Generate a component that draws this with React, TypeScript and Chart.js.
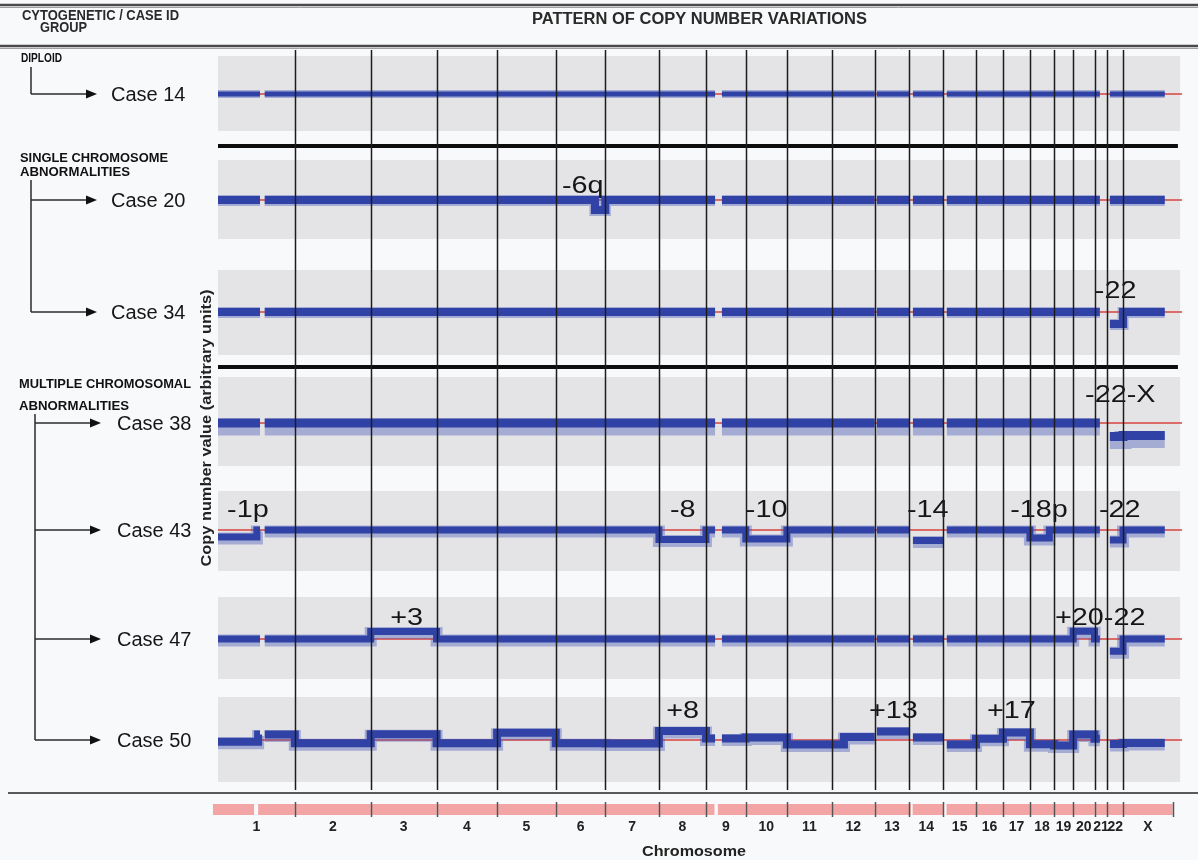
import { useEffect, useRef } from 'react';
import { Chart, registerables } from 'chart.js';

Chart.register(...registerables);

// ---------------- DATA ----------------
const CHROMOSOMES = ['1', '2', '3', '4', '5', '6', '7', '8', '9', '10', '11', '12', '13', '14', '15', '16', '17', '18', '19', '20', '21', '22', 'X'];
// plotted chromosome lengths (Mb)
const CHROM_LENGTHS = [245, 242, 210, 193, 187, 158, 171, 150, 127, 131, 143, 137, 110, 109, 104, 86, 86, 77, 61, 68, 41, 50, 158];
// regions without probes: [chromosome index, from Mb, to Mb]
const COVERAGE_GAPS = [[0, 134, 149], [8, 29, 51], [12, 0, 7], [13, 0, 12], [14, 0, 11], [20, 17, 41], [21, 0, 8], [22, 133, 158]];
const IDEOGRAM_GAPS = [[0, 115, 128], [8, 27, 38], [13, 5, 11], [14, 0, 10]];

const CASE_LABELS = ['Case 14', 'Case 20', 'Case 34', 'Case 38', 'Case 43', 'Case 47', 'Case 50'];
// segments: [chromosome index, from Mb, to Mb, copy-number shift (log2, arbitrary)]
const CASE_14_SEGMENTS: number[][] = [];
const CASE_20_SEGMENTS = [[5, 125, 158, -0.33]];
const CASE_34_SEGMENTS = [[21, 0, 50, -0.4]];
const CASE_38_SEGMENTS = [[21, 0, 50, -0.45], [22, 0, 158, -0.42]];
const CASE_43_SEGMENTS = [[0, 0, 124, -0.23], [7, 0, 150, -0.32], [9, 0, 131, -0.3], [13, 0, 109, -0.35], [17, 0, 62, -0.27], [21, 0, 50, -0.33]];
const CASE_47_SEGMENTS = [[2, 0, 210, 0.25], [19, 0, 68, 0.26], [21, 0, 50, -0.41]];
const CASE_50_SEGMENTS = [
  [0, 0, 128, -0.06], [0, 128, 245, 0.18], [1, 0, 242, -0.11], [2, 0, 210, 0.19], [3, 0, 193, -0.11],
  [4, 0, 187, 0.24], [5, 0, 158, -0.11], [6, 0, 171, -0.12], [7, 0, 150, 0.3], [8, 0, 127, 0.05],
  [9, 0, 131, 0.08], [10, 0, 143, -0.15], [11, 0, 39, -0.15], [11, 39, 137, 0.1], [12, 0, 110, 0.28],
  [13, 0, 109, 0.08], [14, 0, 104, -0.15], [15, 0, 86, 0.04], [16, 0, 86, 0.25], [17, 0, 77, -0.14],
  [18, 0, 61, -0.18], [19, 0, 68, 0.18], [20, 0, 41, 0.04], [21, 0, 50, -0.13], [22, 0, 158, -0.1],
];
const CASE_SEGMENTS = [CASE_14_SEGMENTS, CASE_20_SEGMENTS, CASE_34_SEGMENTS, CASE_38_SEGMENTS, CASE_43_SEGMENTS, CASE_47_SEGMENTS, CASE_50_SEGMENTS];

const ANNOTATION_TEXT = ['-6q', '-22', '-22-X', '-1p', '-8', '-10', '-14', '-18p', '-22', '+3', '+20-22', '+8', '+13', '+17'];
const ANNOTATION_CASE = [1, 2, 3, 4, 4, 4, 4, 4, 4, 5, 5, 6, 6, 6];
const ANNOTATION_CHROM = [5, 21, 21, 0, 7, 9, 13, 17, 21, 2, 19, 7, 12, 16];
const ANNOTATION_OFFSET_MB = [20, -40, -71, 29, 35, 0, -7, -63, -27, 62, -58, 23, -18, -51];

// ---------------- LAYOUT / STYLE ----------------
const W = 1198;
const H = 860;
const FONT = '"Liberation Sans", Arial, Helvetica, sans-serif';
const X_MAX = 3074;
const BAND_END = 3068;
const SEP_END = 3061;
const IDEOGRAM_LEAD = 16;
const Y_MAX = 7.45;
const GAIN = 0.3;
const ROW_BASE = [0.46, 1.52, 2.64, 3.75, 4.82, 5.91, 6.92];
const ROW_BAND = [[0.08, 0.83], [1.12, 1.91], [2.22, 3.07], [3.29, 4.18], [4.43, 5.23], [5.49, 6.31], [6.49, 7.34]];
const ANNOT_RISE = [0, 0.07, 0.14, 0.21, 0.13, 0.14, 0.22];
const TRACE_WIDTH = [5, 8, 8, 9, 7, 7, 8];
// spread band of the noisy signal (downward offset in y units, width px)
const SPREAD_OFFSET = [0, 0.005, 0.005, 0.04, 0.015, 0.015, 0.015];
const SPREAD_WIDTH = [8, 11, 11, 17, 12, 12, 12];
const SEPARATORS = [0.98, 3.19];

const CHROM_STARTS: number[] = [];
CHROM_LENGTHS.reduce((acc, len) => { CHROM_STARTS.push(acc); return acc + len; }, 0);

function subtractGaps(c: number, len: number, gaps: number[][]) {
  let intervals = [[0, len]];
  gaps.filter((g) => g[0] === c).forEach(([, a, b]) => {
    intervals = intervals.flatMap(([s, e]) => {
      const out: number[][] = [];
      if (a > s) out.push([s, Math.min(a, e)]);
      if (b < e) out.push([Math.max(b, s), e]);
      return out.filter(([p, q]) => q > p);
    });
  });
  return intervals;
}

function buildTrace(segments: number[][], row: number, shift: number) {
  const pieces: number[][] = [];
  CHROM_LENGTHS.forEach((len, c) => {
    const segs = segments.filter((g) => g[0] === c);
    subtractGaps(c, len, COVERAGE_GAPS).forEach(([s, e]) => {
      const cuts = new Set<number>([s, e]);
      segs.forEach(([, a, b]) => {
        if (a > s && a < e) cuts.add(a);
        if (b > s && b < e) cuts.add(b);
      });
      const sorted = [...cuts].sort((p, q) => p - q);
      for (let k = 0; k < sorted.length - 1; k++) {
        const p = sorted[k];
        const q = sorted[k + 1];
        const mid = (p + q) / 2;
        const seg = segs.find(([, a, b]) => mid >= a && mid <= b);
        pieces.push([CHROM_STARTS[c] + p, CHROM_STARTS[c] + q, seg ? seg[3] : 0]);
      }
    });
  });
  const pts: { x: number; y: number | null }[] = [];
  let prevEnd: number | null = null;
  pieces.forEach(([gs, ge, v]) => {
    if (prevEnd !== null && gs - prevEnd > 0.5) pts.push({ x: (prevEnd + gs) / 2, y: null });
    const y = ROW_BASE[row] - v * GAIN + shift;
    pts.push({ x: gs, y }, { x: ge, y });
    prevEnd = ge;
  });
  return pts;
}

function drawText(
  ctx: CanvasRenderingContext2D, text: string, x: number, y: number, size: number,
  opts: { bold?: boolean; align?: 'left' | 'center' | 'right'; width?: number; scaleX?: number; color?: string; rotate?: number; baseline?: CanvasTextBaseline } = {},
) {
  ctx.save();
  ctx.font = `${opts.bold ? 'bold ' : ''}${size}px ${FONT}`;
  ctx.fillStyle = opts.color || '#111';
  ctx.textBaseline = opts.baseline || 'middle';
  ctx.textAlign = 'left';
  const w = ctx.measureText(text).width;
  const sx = opts.width ? opts.width / w : opts.scaleX || 1;
  const dw = w * sx;
  ctx.translate(x, y);
  if (opts.rotate) ctx.rotate(opts.rotate);
  const left = opts.align === 'center' ? -dw / 2 : opts.align === 'right' ? -dw : 0;
  ctx.translate(left, 0);
  ctx.scale(sx, 1);
  ctx.fillText(text, 0, 0);
  ctx.restore();
}

function hLine(ctx: CanvasRenderingContext2D, x0: number, x1: number, y: number, width: number, color: string) {
  ctx.save();
  ctx.strokeStyle = color;
  ctx.lineWidth = width;
  ctx.beginPath();
  ctx.moveTo(x0, y);
  ctx.lineTo(x1, y);
  ctx.stroke();
  ctx.restore();
}

function vLine(ctx: CanvasRenderingContext2D, x: number, y0: number, y1: number, width: number, color: string) {
  ctx.save();
  ctx.strokeStyle = color;
  ctx.lineWidth = width;
  ctx.beginPath();
  ctx.moveTo(x, y0);
  ctx.lineTo(x, y1);
  ctx.stroke();
  ctx.restore();
}

function arrow(ctx: CanvasRenderingContext2D, x0: number, y: number, x1: number) {
  hLine(ctx, x0, x1 - 8, y, 1.5, '#2a2a2a');
  ctx.save();
  ctx.fillStyle = '#111';
  ctx.beginPath();
  ctx.moveTo(x1 - 11, y - 4.5);
  ctx.lineTo(x1, y);
  ctx.lineTo(x1 - 11, y + 4.5);
  ctx.closePath();
  ctx.fill();
  ctx.restore();
}

const figurePlugin = {
  id: 'cnvFigure',
  beforeDraw(chart: any) {
    const { ctx, scales } = chart;
    const xs = scales.x;
    const ys = scales.y;
    ctx.save();
    ctx.fillStyle = '#f8f9fb';
    ctx.fillRect(0, 0, W, H);
    ctx.fillStyle = '#e4e4e6';
    ROW_BAND.forEach(([t, b]) => {
      const x0 = xs.getPixelForValue(0);
      const x1 = xs.getPixelForValue(BAND_END);
      const y0 = ys.getPixelForValue(t);
      const y1 = ys.getPixelForValue(b);
      ctx.fillRect(x0, y0, x1 - x0, y1 - y0);
    });
    ctx.restore();
  },
  afterDatasetsDraw(chart: any) {
    const { ctx, scales } = chart;
    const xs = scales.x;
    const ys = scales.y;
    SEPARATORS.forEach((v) => {
      hLine(ctx, xs.getPixelForValue(0), xs.getPixelForValue(SEP_END), ys.getPixelForValue(v), 4, '#0d0d0d');
    });
    ANNOTATION_TEXT.forEach((t, i) => {
      const row = ANNOTATION_CASE[i];
      const x = xs.getPixelForValue(CHROM_STARTS[ANNOTATION_CHROM[i]] + ANNOTATION_OFFSET_MB[i]);
      const y = ys.getPixelForValue(ROW_BASE[row] - ANNOT_RISE[row]);
      drawText(ctx, t, x, y, 24, { scaleX: 1.2, baseline: 'alphabetic', color: '#151515' });
    });
    const top = chart.chartArea.top + 2;
    const bottom = chart.chartArea.bottom - 3;
    for (let c = 1; c < CHROMOSOMES.length; c++) {
      vLine(ctx, Math.round(xs.getPixelForValue(CHROM_STARTS[c])) + 0.5, top, bottom, 1.5, '#1c1c1c');
    }
  },
  afterDraw(chart: any) {
    const { ctx, scales } = chart;
    const xs = scales.x;
    const ys = scales.y;
    // header
    hLine(ctx, 0, W, 5, 2.5, '#4a4a4a');
    hLine(ctx, 0, W, 7.5, 1, '#a0a0a0');
    hLine(ctx, 0, W, 46, 2.5, '#4a4a4a');
    hLine(ctx, 0, W, 48.5, 1, '#a0a0a0');
    drawText(ctx, 'CYTOGENETIC / CASE ID', 22, 16, 15, { bold: true, width: 157, color: '#2a2a2a' });
    drawText(ctx, 'GROUP', 40, 28, 15, { bold: true, width: 47, color: '#2a2a2a' });
    drawText(ctx, 'PATTERN OF COPY NUMBER VARIATIONS', 532, 20, 16, { bold: true, width: 335, color: '#2a2a2a' });

    // left column
    const rowY = ROW_BASE.map((v) => ys.getPixelForValue(v));
    drawText(ctx, 'DIPLOID', 21, 59, 12, { bold: true, width: 41 });
    vLine(ctx, 31, 67, rowY[0], 1.5, '#2a2a2a');
    arrow(ctx, 31, rowY[0], 97);
    drawText(ctx, 'SINGLE CHROMOSOME', 20, 158, 13, { bold: true, width: 148 });
    drawText(ctx, 'ABNORMALITIES', 20, 172, 13, { bold: true, width: 110 });
    vLine(ctx, 31, 180, rowY[2], 1.5, '#2a2a2a');
    arrow(ctx, 31, rowY[1], 97);
    arrow(ctx, 31, rowY[2], 97);
    drawText(ctx, 'MULTIPLE CHROMOSOMAL', 19, 384, 13, { bold: true, width: 172 });
    drawText(ctx, 'ABNORMALITIES', 19, 406, 13, { bold: true, width: 110 });
    vLine(ctx, 35, 414, rowY[6], 1.5, '#2a2a2a');
    for (let r = 3; r < 7; r++) arrow(ctx, 35, rowY[r], 101);
    CASE_LABELS.forEach((lab, r) => {
      drawText(ctx, lab, r < 3 ? 111 : 117, rowY[r] + 1, 20, { color: '#161616' });
    });
    drawText(ctx, 'Copy number value (arbitrary units)', 207, 428, 14, { bold: true, width: 277, rotate: -Math.PI / 2, align: 'center', color: '#222' });

    // bottom axis with chromosome ideogram
    hLine(ctx, 8, W, 793, 2, '#5a5a5a');
    ctx.save();
    ctx.fillStyle = '#f3a5a5';
    CHROM_LENGTHS.forEach((len, c) => {
      subtractGaps(c, len, IDEOGRAM_GAPS).forEach(([s, e]) => {
        const x0 = xs.getPixelForValue(CHROM_STARTS[c] + s - (c === 0 && s === 0 ? IDEOGRAM_LEAD : 0));
        const x1 = xs.getPixelForValue(CHROM_STARTS[c] + e);
        ctx.fillRect(x0, 804, x1 - x0, 11);
      });
    });
    ctx.restore();
    for (let c = 1; c <= CHROMOSOMES.length; c++) {
      const g = c < CHROMOSOMES.length ? CHROM_STARTS[c] : CHROM_STARTS[c - 1] + CHROM_LENGTHS[c - 1];
      vLine(ctx, Math.round(xs.getPixelForValue(g)) + 0.5, 802, 817, 1.5, '#555');
    }
    CHROMOSOMES.forEach((name, c) => {
      const x = xs.getPixelForValue(CHROM_STARTS[c] + CHROM_LENGTHS[c] / 2);
      drawText(ctx, name, x, 827, 14, { bold: true, align: 'center', color: '#222' });
    });
    drawText(ctx, 'Chromosome', 694, 852, 15, { bold: true, align: 'center', width: 104, color: '#222' });
  },
};

export default function App() {
  const canvasRef = useRef<HTMLCanvasElement | null>(null);

  useEffect(() => {
    if (!canvasRef.current) return;
    const datasets: any[] = [];
    CASE_SEGMENTS.forEach((segs, r) => {
      datasets.push({
        label: CASE_LABELS[r],
        data: buildTrace(segs, r, 0),
        borderColor: '#3142a6',
        borderWidth: TRACE_WIDTH[r],
        order: 0,
      });
      datasets.push({
        label: CASE_LABELS[r] + ' spread',
        data: buildTrace(segs, r, SPREAD_OFFSET[r]),
        borderColor: 'rgba(70, 88, 185, 0.4)',
        borderWidth: SPREAD_WIDTH[r],
        order: 1,
      });
      datasets.push({
        label: CASE_LABELS[r] + ' baseline',
        data: [{ x: 0, y: ROW_BASE[r] }, { x: X_MAX, y: ROW_BASE[r] }],
        borderColor: '#d8433e',
        borderWidth: 1.5,
        order: 2,
      });
    });

    const chart = new Chart(canvasRef.current, {
      type: 'line',
      data: { datasets },
      options: {
        responsive: false,
        maintainAspectRatio: false,
        devicePixelRatio: 1,
        animation: false,
        layout: { padding: { left: 218, right: 16, top: 48, bottom: 67 } },
        elements: {
          point: { radius: 0, hoverRadius: 0 },
          line: { tension: 0, borderCapStyle: 'butt', borderJoinStyle: 'miter' },
        },
        spanGaps: false,
        scales: {
          x: { type: 'linear', min: 0, max: X_MAX, display: false },
          y: { type: 'linear', min: 0, max: Y_MAX, reverse: true, display: false },
        },
        plugins: { legend: { display: false }, tooltip: { enabled: false } },
      },
      plugins: [figurePlugin],
    } as any);
    return () => chart.destroy();
  }, []);

  return (
    <div style={{ position: 'absolute', left: 0, top: 0, width: W, height: H }}>
      <canvas ref={canvasRef} width={W} height={H} style={{ width: W, height: H, display: 'block' }} />
    </div>
  );
}
